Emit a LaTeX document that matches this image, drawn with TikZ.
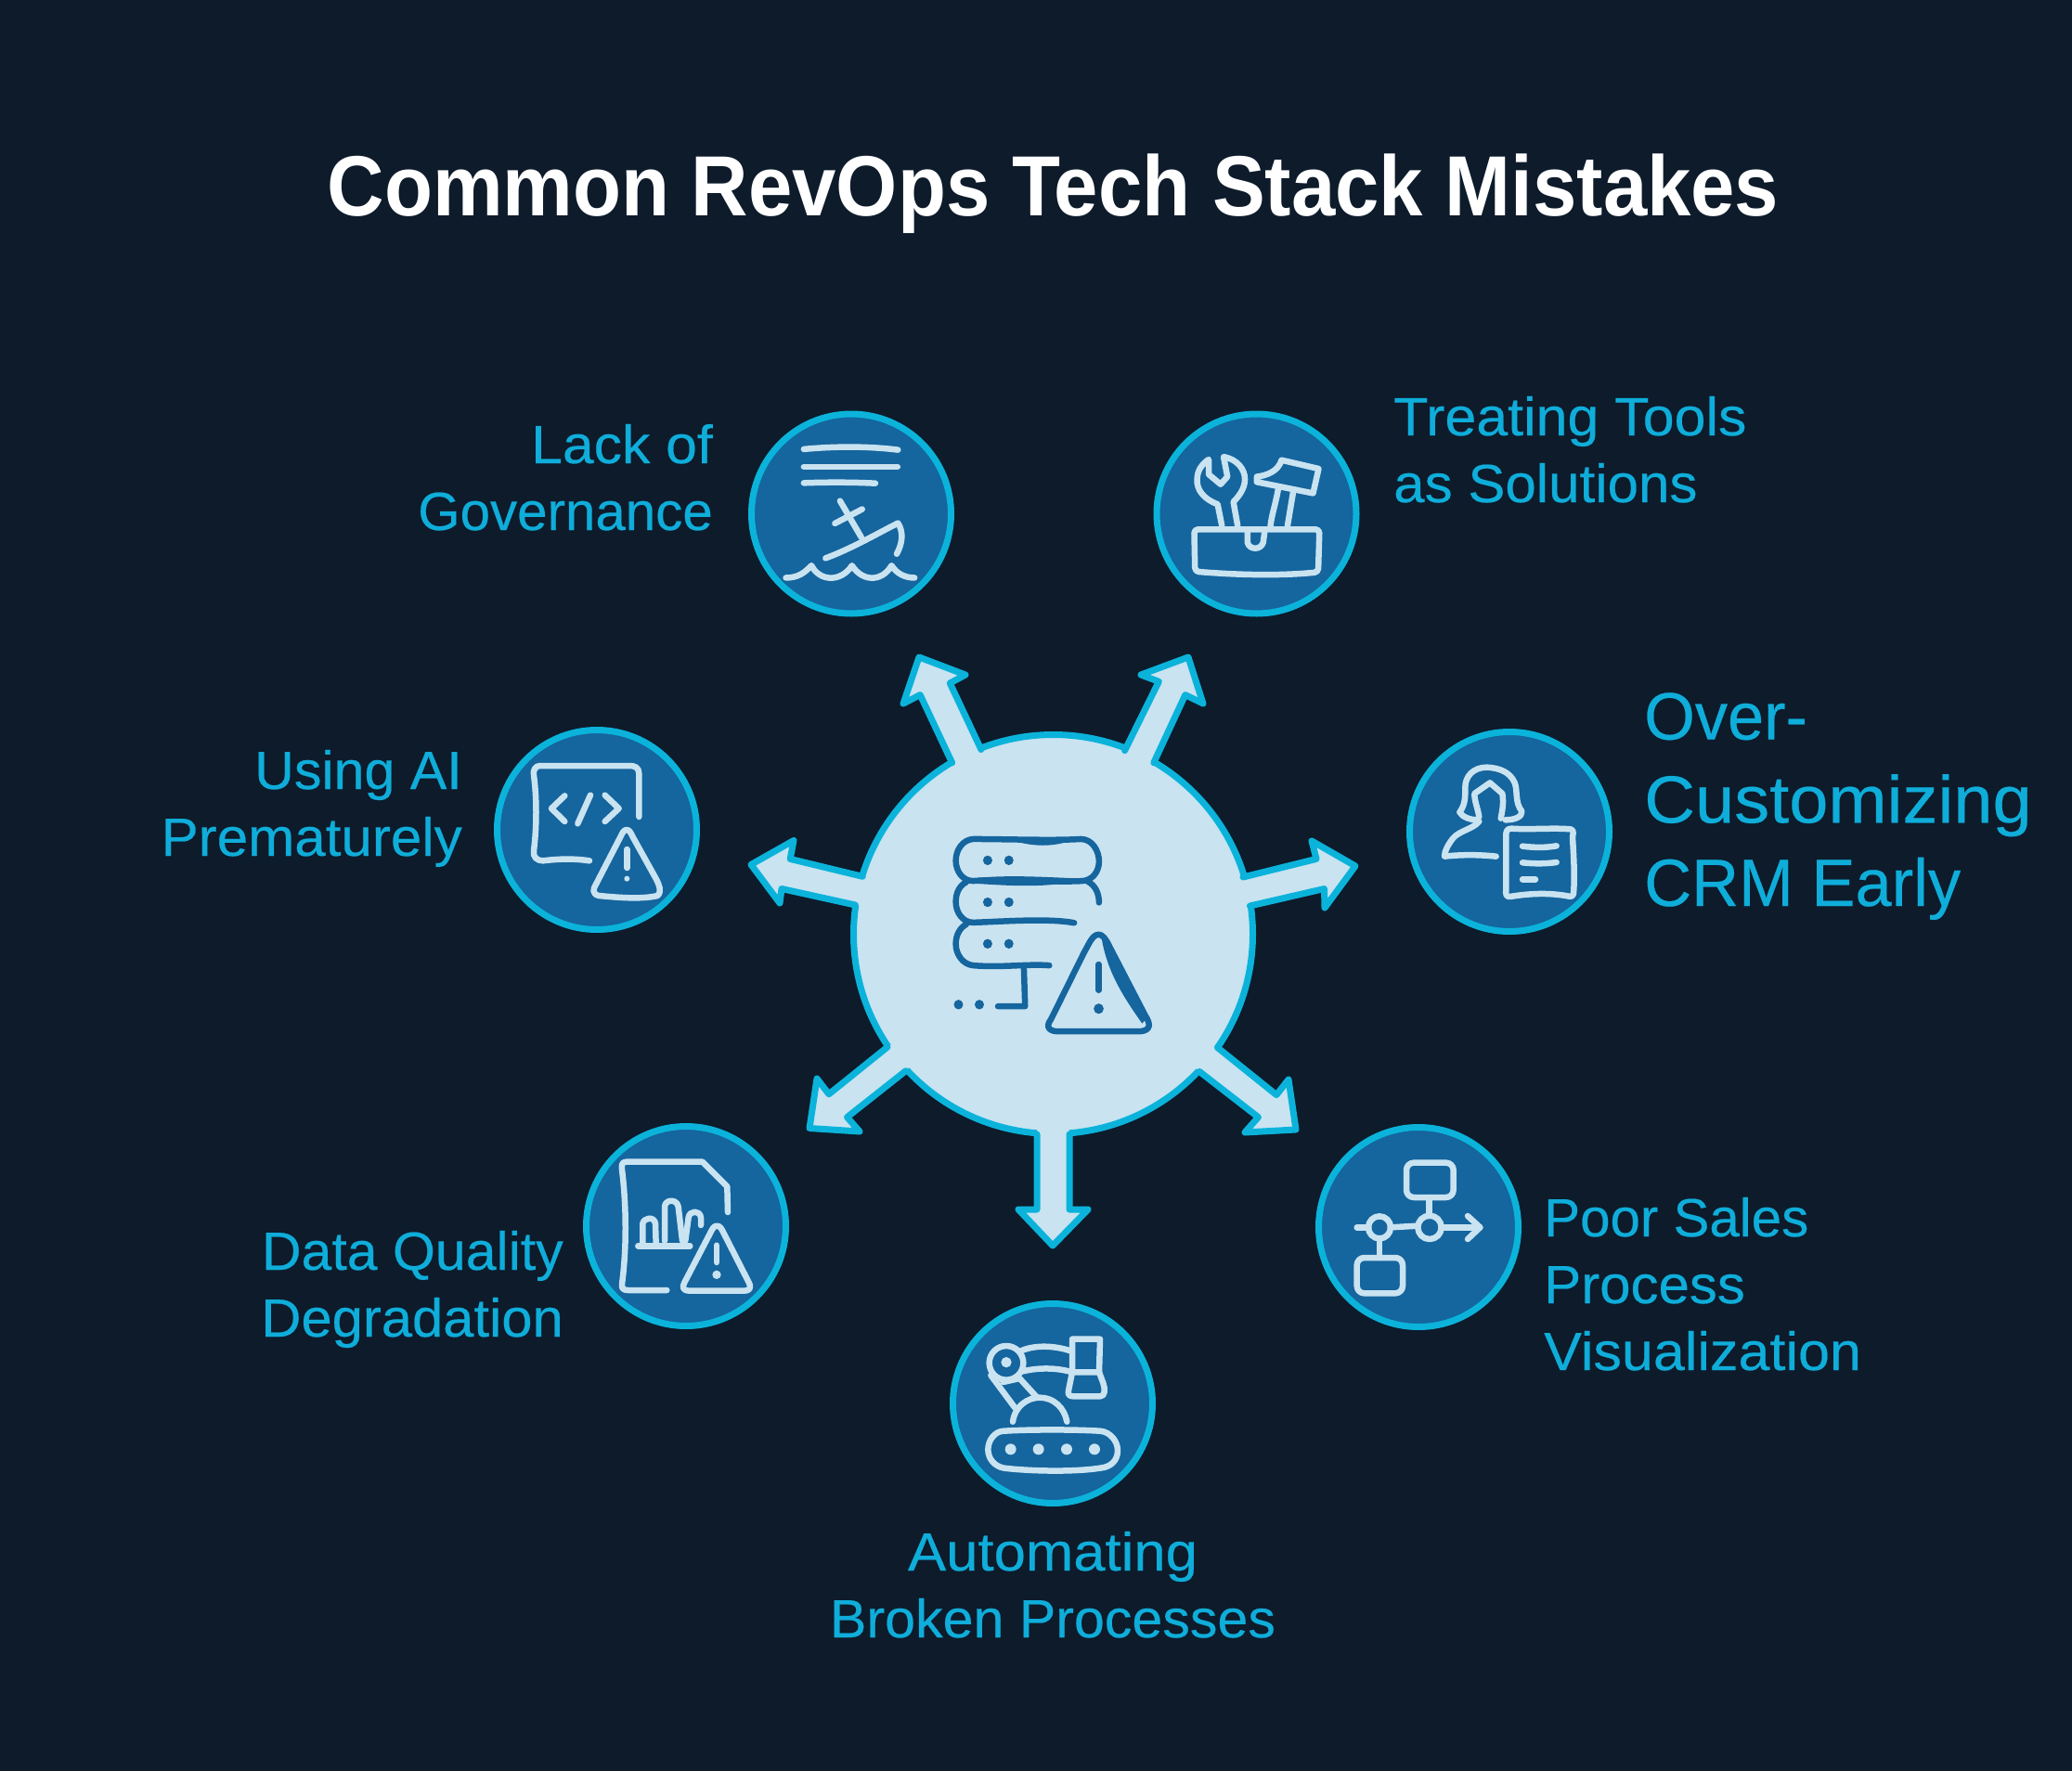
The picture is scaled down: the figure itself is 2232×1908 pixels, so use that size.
\documentclass[tikz,border=0pt]{standalone}
\usepackage{graphicx}
\usepackage{fontspec}
\setmainfont{Liberation Sans}
\newfontfamily\lblfont[FakeBold=0.35]{Liberation Sans}
\definecolor{bgdark}{HTML}{0D1B2B}
\definecolor{ringc}{HTML}{0BB3DA}
\definecolor{iconfill}{HTML}{15659E}
\definecolor{lightc}{HTML}{C9E3F1}
\definecolor{textc}{HTML}{0FADDA}
\newcommand{\sx}[2]{\scalebox{#1}[1]{#2}}
\tikzset{
  x=1pt,y=-1pt,
  badge/.style={circle,draw=ringc,fill=iconfill,line width=7pt,minimum size=215pt,inner sep=0pt},
  hubnode/.style={circle,draw=ringc,fill=lightc,line width=7pt,minimum size=430pt,inner sep=0pt},
  lbl/.style={text=textc,inner sep=0pt,font=\lblfont\fontsize{58}{72}\selectfont},
  biglbl/.style={text=textc,inner sep=0pt,font=\lblfont\fontsize{72}{89.7}\selectfont},
  ink/.style={draw=lightc,line width=6.5pt,line cap=round,line join=round},
  darkink/.style={draw=iconfill,line width=6.5pt,line cap=round,line join=round},
  spokeline/.style={draw=ringc,line width=7pt,line join=round,line cap=round},
  zoomA/.style={shift={(780,420)},xscale=0.4591,yscale=0.3571},
  zoomB/.style={shift={(850,780)},xscale=0.3571,yscale=0.37},
}
\newcommand{\spoke}[1]{\fill[lightc] (hub.center) -- #1 -- cycle; \draw[spokeline] #1;}
\begin{document}
\begin{tikzpicture}
\useasboundingbox (0,0) rectangle (2232,1908);
\fill[bgdark] (0,0) rectangle (2232,1908);
\node[text=white,inner sep=0pt,anchor=base,font=\fontsize{92}{92}\selectfont\bfseries] (title) at (1134.5,232) {\sx{0.925}{Common RevOps Tech Stack Mistakes}};

% hub
\node[hubnode] (hub) at (1134.5,1006.5) {};
\spoke{(1056.9,807.5) -- (1023.3,736) -- (1040,727) -- (990,708) -- (973,758) -- (991.2,748.6) -- (1025.6,821.8)}
\spoke{(1211.6,808.6) -- (1248.3,734.3) -- (1229,727) -- (1280,708) -- (1296,758) -- (1276.8,748.6) -- (1242.8,821.8)}
\spoke{(1339,945) -- (1418,925.4) -- (1413,906) -- (1460,933) -- (1427,978) -- (1426.5,957.5) -- (1346.4,976)}
\spoke{(1311.4,1128.5) -- (1375,1179.6) -- (1388,1163) -- (1396,1217) -- (1341,1220) -- (1355.4,1203.6) -- (1292,1154.4)}
\spoke{(1152,1222) -- (1152,1303) -- (1172,1303) -- (1134,1342) -- (1097,1303) -- (1117,1303) -- (1117,1222)}
\spoke{(975.7,1153.7) -- (912.5,1203.6) -- (926,1219) -- (872,1215.5) -- (880,1162) -- (892.9,1178.8) -- (956,1128)}
\spoke{(921.4,975) -- (842,957.5) -- (840,973) -- (809,931.5) -- (855,905.5) -- (851.2,925.4) -- (929.2,944.3)}

% badges
\node[badge] (lack) at (917,553.5) {};
\node[badge] (tools) at (1353.5,553.5) {};
\node[badge] (crm) at (1626,896) {};
\node[badge] (flow) at (1528,1322) {};
\node[badge] (robot) at (1134,1512) {};
\node[badge] (data) at (739,1321) {};
\node[badge] (ai) at (643,894) {};

% labels
\node[lbl,anchor=base east,align=right] (lacktxt) at (768,571) {\sx{1.046}{Lack of}\\\sx{1.005}{Governance}};
\node[lbl,anchor=base west,align=left] (toolstxt) at (1501,541) {\sx{1.05}{Treating Tools}\\\sx{1.036}{as Solutions}};
\node[biglbl,anchor=base west,align=left] (crmtxt) at (1771,976) {\sx{0.976}{Over-}\\\sx{1.054}{Customizing}\\\sx{0.98}{CRM Early}};
\node[lbl,anchor=base west,align=left] (flowtxt) at (1663,1476) {\sx{1.005}{Poor Sales}\\\sx{1.034}{Process}\\\sx{1.053}{Visualization}};
\node[lbl,anchor=base,align=center] (robottxt) at (1134,1764) {\sx{1.063}{Automating}\\\sx{1.02}{Broken Processes}};
\node[lbl,anchor=base east,align=right] (datatxt) at (607,1440) {\sx{1.018}{Data Quality}\\\sx{1.03}{Degradation}};
\node[lbl,anchor=base east,align=right] (aitxt) at (498,922) {\sx{1.02}{Using AI}\\\sx{1.037}{Prematurely}};

% ship icon
\begin{scope}[zoomA]
\draw[ink] (187,179) .. controls (260,170) and (340,170) .. (408,181);
\draw[ink] (187,232) -- (407,232);
\draw[ink] (187,281) .. controls (250,278) and (310,279) .. (355,282);
\draw[ink] (272,335) -- (322,445);
\draw[ink] (260,403) -- (324,360);
\draw[ink] (238,508) .. controls (300,478) and (350,440) .. (408,402) .. controls (422,430) and (418,465) .. (405,495);
\draw[ink] (145,567) .. controls (175,567) and (190,550) .. (205,530) .. controls (225,580) and (275,580) .. (300,530) .. controls (325,580) and (370,580) .. (393,530) .. controls (405,555) and (425,567) .. (447,567);
\end{scope}
% tools icon
\begin{scope}[zoomA]
\draw[ink,rounded corners=4pt] (1103,421) -- (1397,421) -- (1394,550) .. controls (1300,562) and (1200,558) .. (1105,548) -- cycle;
\draw[ink] (1168,410) -- (1158,345) .. controls (1125,330) and (1108,300) .. (1110,270) .. controls (1110,245) and (1120,225) .. (1137,210) -- (1137,255) -- (1165,285) -- (1181,262) -- (1172,202) .. controls (1205,210) and (1222,240) .. (1222,270) .. controls (1222,300) and (1205,325) .. (1195,338) -- (1205,410);
\draw[ink] (1250,262) .. controls (1275,258) and (1300,245) .. (1308,212) -- (1395,238) -- (1382,312) -- (1250,278) -- cycle;
\draw[ink] (1300,300) .. controls (1295,340) and (1285,375) .. (1282,410);
\draw[ink] (1335,310) -- (1322,410);
\draw[ink] (1228,430) -- (1228,460) .. controls (1232,484) and (1260,484) .. (1265,460) -- (1268,430);
\end{scope}
% server icon
\begin{scope}[zoomB]
\draw[darkink] (555,335) .. controls (650,335) and (800,340) .. (880,335) .. controls (915,335) and (935,370) .. (935,400) .. controls (935,430) and (915,455) .. (885,457) .. controls (800,462) and (650,450) .. (555,457) .. controls (525,457) and (503,430) .. (503,398) .. controls (503,365) and (525,337) .. (555,335);
\fill[iconfill] (660,335) .. controls (740,345) and (820,345) .. (870,332) .. controls (800,362) and (730,358) .. (660,335);
\fill[iconfill] (570,448) .. controls (680,438) and (800,448) .. (890,450) .. controls (800,478) and (680,472) .. (570,465) -- cycle;
\draw[darkink] (535,460) .. controls (515,470) and (503,490) .. (503,518) .. controls (503,550) and (525,578) .. (555,578) .. controls (650,575) and (780,565) .. (860,579);
\draw[darkink] (900,458) .. controls (925,470) and (935,495) .. (935,520);
\draw[darkink] (535,583) .. controls (515,593) and (503,615) .. (503,640) .. controls (503,672) and (525,700) .. (555,703) .. controls (640,710) and (720,698) .. (785,703);
\draw[darkink] (708,703) -- (712,822) -- (630,822);
\foreach \px/\py in {599/397,663/397,599/519,663/519,599/640,663/640,511/817,574/817} \fill[iconfill] (\px,\py) circle[radius=14];
\draw[darkink] (934,613) .. controls (915,613) and (905,640) .. (890,665) -- (790,860) .. controls (770,885) and (790,895) .. (810,895) -- (1060,895) .. controls (1090,892) and (1092,875) .. (1075,850) -- (965,645) .. controls (955,625) and (945,613) .. (934,613);
\fill[iconfill] (955,625) -- (1080,855) -- (1065,872) .. controls (1005,790) and (960,720) .. (943,625) -- cycle;
\draw[darkink] (934,700) -- (934,775);
\fill[iconfill] (934,829) circle[radius=15];
\end{scope}
% code icon
\begin{scope}[shift={(510,770)},scale=1/3]
\draw[ink] (535,330) -- (535,190) .. controls (535,170) and (520,165) .. (505,165) -- (215,165) .. controls (200,165) and (192,180) .. (195,195) .. controls (205,270) and (205,360) .. (195,440) .. controls (192,460) and (205,472) .. (225,472) .. controls (280,465) and (330,465) .. (375,472);
\draw[ink] (295,262) -- (252,303) -- (295,345);
\draw[ink] (425,260) -- (470,303) -- (425,345);
\draw[ink] (378,260) -- (337,352);
\draw[ink,line join=round] (495,372) .. controls (505,372) and (510,385) .. (515,395) -- (590,530) .. controls (600,550) and (610,570) .. (595,585) .. controls (540,598) and (460,590) .. (405,585) .. controls (385,580) and (385,565) .. (395,550) -- (475,395) .. controls (480,385) and (485,372) .. (495,372);
\draw[ink] (496,435) -- (496,495);
\fill[lightc] (496,530) circle[radius=9];
\end{scope}
% person icon
\begin{scope}[shift={(1490,770)},scale=1/3]
\draw[ink] (395,340) .. controls (425,340) and (450,330) .. (448,312) .. controls (425,285) and (435,245) .. (425,220) .. controls (410,185) and (375,172) .. (335,170) .. controls (290,170) and (265,200) .. (265,235) .. controls (265,270) and (265,290) .. (247,315) .. controls (255,330) and (280,340) .. (305,340);
\draw[ink] (310,330) .. controls (305,300) and (295,280) .. (295,255) -- (345,220) -- (385,255) .. controls (390,285) and (385,310) .. (380,335);
\draw[ink] (310,345) .. controls (290,370) and (245,375) .. (225,400) .. controls (210,420) and (198,440) .. (198,458) .. controls (250,452) and (310,452) .. (365,458);
\draw[ink] (415,368) .. controls (480,372) and (550,365) .. (605,370) .. controls (615,372) and (615,380) .. (612,395) .. controls (615,450) and (620,520) .. (615,578) .. controls (612,590) and (605,588) .. (590,585) .. controls (530,575) and (470,578) .. (410,588) .. controls (398,590) and (395,580) .. (397,565) -- (397,385) .. controls (398,372) and (405,368) .. (415,368);
\draw[ink] (450,425) .. controls (490,430) and (525,430) .. (560,424);
\draw[ink] (450,478) .. controls (490,482) and (525,482) .. (560,477);
\draw[ink] (450,532) -- (492,532);
\end{scope}
% data icon
\begin{scope}[shift={(610,1200)},scale=1/3]
\draw[ink] (522,318) -- (520,235) -- (440,155) -- (195,155) .. controls (180,155) and (178,165) .. (180,180) .. controls (195,300) and (195,440) .. (180,550) .. controls (178,565) and (185,570) .. (200,570) -- (325,570);
\draw[ink] (232,427) -- (400,427);
\draw[ink] (247,420) -- (247,355) .. controls (250,335) and (285,330) .. (288,355) -- (290,420);
\draw[ink] (318,410) -- (318,300) .. controls (320,275) and (358,275) .. (362,300) -- (375,410);
\draw[ink] (385,410) -- (395,335) .. controls (398,312) and (432,310) .. (435,335) -- (435,360);
\draw[ink] (487,362) .. controls (497,362) and (502,372) .. (507,382) -- (590,545) .. controls (600,565) and (590,572) .. (575,572) -- (397,572) .. controls (380,572) and (372,562) .. (382,545) -- (467,382) .. controls (472,372) and (477,362) .. (487,362);
\draw[ink] (486,425) -- (486,480);
\fill[lightc] (486,520) circle[radius=14];
\end{scope}
% flow icon
\begin{scope}[shift={(1410,1200)},scale=1/3]
\draw[ink,rounded corners=8pt] (315,158) -- (467,158) -- (467,270) -- (315,270) -- cycle;
\draw[ink,rounded corners=8pt] (155,465) -- (303,465) -- (303,580) -- (155,580) -- cycle;
\draw[ink] (228,367) circle[radius=36];
\draw[ink] (390,367) circle[radius=38];
\draw[ink] (155,367) -- (193,367);
\draw[ink] (263,367) -- (352,362);
\draw[ink] (428,367) -- (553,367);
\draw[ink] (513,330) -- (553,367) -- (513,405);
\draw[ink] (388,270) -- (388,330);
\draw[ink] (228,402) -- (228,465);
\end{scope}
% robot icon
\begin{scope}[shift={(1010,1390)},scale=1/3]
\draw[ink] (222,235) circle[radius=55];
\fill[lightc] (222,233) circle[radius=17];
\draw[ink] (272,195) .. controls (320,175) and (385,180) .. (435,198);
\draw[ink] (276,262) .. controls (325,250) and (385,250) .. (435,265);
\draw[ink] (172,275) -- (250,380);
\draw[ink] (265,285) -- (320,345);
\draw[ink] (212,297) -- (265,285);
\draw[ink] (243,425) .. controls (250,375) and (290,347) .. (330,347) .. controls (375,347) and (410,380) .. (418,425);
\draw[ink] (435,265) -- (435,158) -- (525,158) -- (522,265) -- (435,265);
\draw[ink] (435,265) -- (423,325) .. controls (420,340) and (428,343) .. (440,343) -- (525,343) .. controls (542,343) and (542,320) .. (535,300) -- (522,265);
\draw[ink] (215,455) .. controls (300,450) and (440,450) .. (525,455) .. controls (560,458) and (582,490) .. (582,518) .. controls (582,550) and (560,572) .. (525,575) .. controls (440,588) and (300,585) .. (215,575) .. controls (185,570) and (163,545) .. (163,515) .. controls (163,485) and (185,455) .. (215,455);
\foreach \px in {236,326,417,507} \fill[lightc] (\px,514) circle[radius=18];
\end{scope}
\end{tikzpicture}
\end{document}
